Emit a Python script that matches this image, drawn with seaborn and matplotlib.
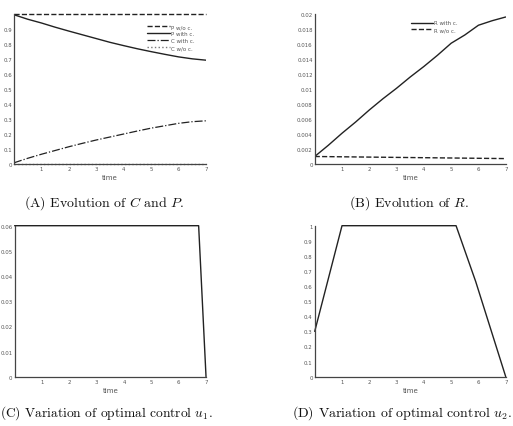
import numpy as np
import pandas as pd
import matplotlib
matplotlib.use("Agg")
import matplotlib.pyplot as plt
import seaborn as sns

# ---- data ----
t_half = [0, 0.5, 1, 1.5, 2, 2.5, 3, 3.5, 4, 4.5, 5, 5.5, 6, 6.5, 7]
p_with = [0.995, 0.965, 0.94, 0.912, 0.886, 0.861, 0.836, 0.811, 0.789, 0.768, 0.749, 0.731, 0.714, 0.701, 0.692]
p_without = [1.0] * 15
c_with = [0.008, 0.038, 0.065, 0.09, 0.115, 0.138, 0.16, 0.18, 0.2, 0.22, 0.239, 0.255, 0.271, 0.282, 0.288]
c_without = [0.0] * 15
r_with = [0.001, 0.0025, 0.0041, 0.0056, 0.0072, 0.0087, 0.0101, 0.0116, 0.013, 0.0145, 0.0161, 0.0172, 0.0185, 0.0191, 0.0196]
r_without = [0.00100, 0.00098, 0.00096, 0.00094, 0.00092, 0.00090, 0.00088, 0.00086, 0.00084, 0.00082, 0.00080, 0.00078, 0.00076, 0.00074, 0.00072]
t_u1 = [0, 6.73, 7]
u1 = [0.06, 0.06, 0.0]
t_u2 = [0, 1, 5.18, 5.9, 7]
u2 = [0.3, 1.0, 1.0, 0.63, 0.0]

xticks = [1, 2, 3, 4, 5, 6, 7]
yticks_a = [0, 0.1, 0.2, 0.3, 0.4, 0.5, 0.6, 0.7, 0.8, 0.9]
ylabels_a = ["0", "0.1", "0.2", "0.3", "0.4", "0.5", "0.6", "0.7", "0.8", "0.9"]
yticks_b = [0, 0.002, 0.004, 0.006, 0.008, 0.01, 0.012, 0.014, 0.016, 0.018, 0.02]
ylabels_b = ["0", "0.002", "0.004", "0.006", "0.008", "0.01", "0.012", "0.014", "0.016", "0.018", "0.02"]
yticks_c = [0, 0.01, 0.02, 0.03, 0.04, 0.05, 0.06]
ylabels_c = ["0", "0.01", "0.02", "0.03", "0.04", "0.05", "0.06"]
yticks_d = [0, 0.1, 0.2, 0.3, 0.4, 0.5, 0.6, 0.7, 0.8, 0.9, 1]
ylabels_d = ["0", "0.1", "0.2", "0.3", "0.4", "0.5", "0.6", "0.7", "0.8", "0.9", "1"]

captions = ["(A) Evolution of $C$ and $P$.", "(B) Evolution of $R$.",
            "(C) Variation of optimal control $u_1$.", "(D) Variation of optimal control $u_2$."]

sns.set_style("white")
plt.rcParams["mathtext.fontset"] = "cm"
plt.rcParams["font.family"] = ["DejaVu Sans"]

fig = plt.figure(figsize=(5.13, 4.27), dpi=100)
LC = "#222222"
TC = "#555555"

axA = fig.add_axes([0.0273, 0.6136, 0.3743, 0.3513])
axB = fig.add_axes([0.6135, 0.6136, 0.3723, 0.3513])
axC = fig.add_axes([0.0285, 0.1155, 0.3731, 0.3536])
axD = fig.add_axes([0.6135, 0.1155, 0.3723, 0.3536])

def style(ax, yt, yl, ylim):
    ax.set_xlim(0, 7)
    ax.set_ylim(*ylim)
    ax.set_xticks(xticks)
    ax.set_xticklabels([str(v) for v in xticks])
    ax.set_yticks(yt)
    ax.set_yticklabels(yl)
    ax.tick_params(direction="in", length=2.5, width=0.6, labelsize=3.9,
                   colors=TC, pad=1.5, labelcolor=TC)
    for s in ["top", "right"]:
        ax.spines[s].set_visible(False)
    for s in ["left", "bottom"]:
        ax.spines[s].set_color("#444444")
        ax.spines[s].set_linewidth(0.9)
    ax.set_xlabel("time", fontsize=5, color=TC, labelpad=2)
    ax.set_ylabel("")

# Panel A
sns.lineplot(x=t_half, y=p_without, ax=axA, color=LC, lw=1.0, linestyle="--", label="P w/o c.", clip_on=False)
sns.lineplot(x=t_half, y=p_with, ax=axA, color=LC, lw=1.0, linestyle="-", label="P with c.")
sns.lineplot(x=t_half, y=c_with, ax=axA, color=LC, lw=0.9, linestyle="-.", label="C with c.")
sns.lineplot(x=t_half, y=c_without, ax=axA, color="#777777", lw=1.0, linestyle=":", label="C w/o c.", clip_on=False)
style(axA, yticks_a, ylabels_a, (0, 1.0))
axA.legend(loc="upper right", bbox_to_anchor=(0.965, 0.965), frameon=False, fontsize=4,
           handlelength=4, handletextpad=0.2, labelspacing=0.35, labelcolor=TC)

# Panel B
sns.lineplot(x=t_half, y=r_with, ax=axB, color=LC, lw=1.0, linestyle="-", label="R with c.")
sns.lineplot(x=t_half, y=r_without, ax=axB, color=LC, lw=1.0, linestyle="--", label="R w/o c.")
style(axB, yticks_b, ylabels_b, (0, 0.02))
axB.legend(loc="upper right", bbox_to_anchor=(0.775, 0.99), frameon=False, fontsize=4,
           handlelength=4, handletextpad=0.2, labelspacing=0.35, labelcolor=TC)

# Panel C
sns.lineplot(x=t_u1, y=u1, ax=axC, color=LC, lw=1.0, clip_on=False)
style(axC, yticks_c, ylabels_c, (0, 0.06))

# Panel D
sns.lineplot(x=t_u2, y=u2, ax=axD, color=LC, lw=1.0, clip_on=False)
style(axD, yticks_d, ylabels_d, (0, 1.0))

cap_kw = dict(ha="center", va="center", fontsize=10, family="cmr10", color="#111111")
fig.text(0.203, 0.525, captions[0], **cap_kw)
fig.text(0.798, 0.525, captions[1], **cap_kw)
fig.text(0.208, 0.033, captions[2], ha="center", va="center", fontsize=9.7,
         family="cmr10", color="#111111")
fig.text(0.783, 0.033, captions[3], **cap_kw)

fig.savefig("out.png", dpi=100)
